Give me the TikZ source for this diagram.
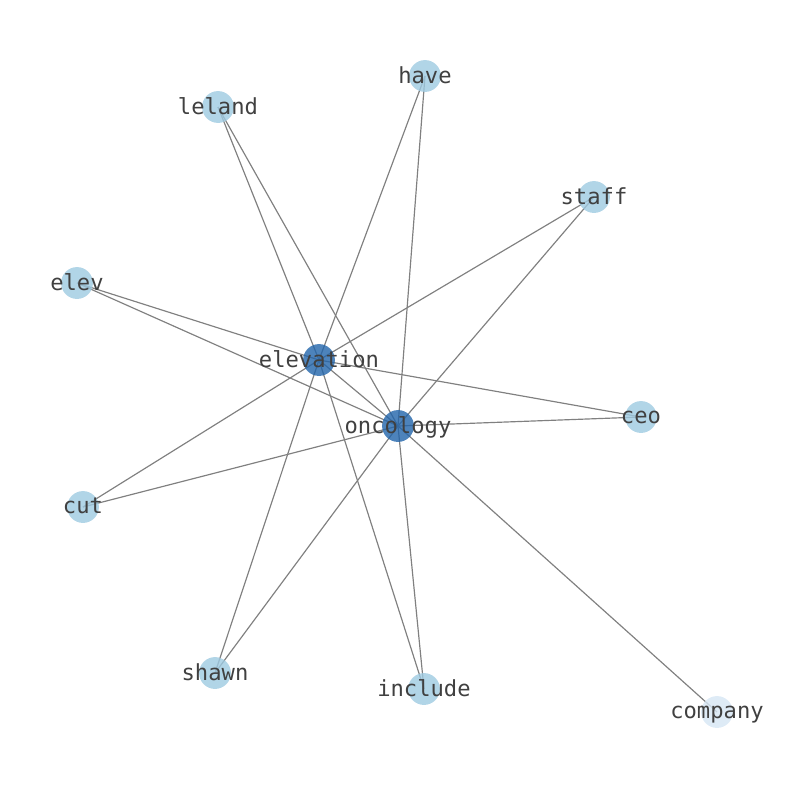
\documentclass[tikz,border=0pt]{standalone}
\usepackage{fontspec}
\setmonofont{DejaVu Sans Mono}
\usetikzlibrary{backgrounds}
\definecolor{hubblue}{RGB}{33,100,170}
\definecolor{leafblue}{RGB}{158,202,225}
\definecolor{paleblue}{RGB}{214,230,244}
\definecolor{labelgray}{RGB}{64,64,64}
\definecolor{edgegray}{RGB}{128,128,128}
\tikzset{
  hub/.style={circle,minimum size=23pt,inner sep=0pt,fill=hubblue,fill opacity=0.8},
  leaf/.style={circle,minimum size=23pt,inner sep=0pt,fill=leafblue,fill opacity=0.8},
  pale/.style={circle,minimum size=23pt,inner sep=0pt,fill=paleblue,fill opacity=0.8},
  lbl/.style={font=\ttfamily\fontsize{16}{16}\selectfont,text=labelgray,inner sep=0pt,yshift=-1.5pt},
  edge/.style={draw=edgegray,line width=0.85pt}
}
\begin{document}
\begin{tikzpicture}[x=0.01in,y=-0.01in]
		\useasboundingbox (0,0) rectangle (794,790);
		% nodes
		\node[hub] (elevation) at (319,360) {};
		\node[hub] (oncology) at (398,426) {};
		\node[leaf] (have) at (425,76) {};
		\node[leaf] (leland) at (218,107) {};
		\node[leaf] (staff) at (594,197) {};
		\node[leaf] (elev) at (77,283) {};
		\node[leaf] (ceo) at (641,417) {};
		\node[leaf] (cut) at (83,507) {};
		\node[leaf] (shawn) at (215,673) {};
		\node[leaf] (include) at (424,689) {};
		\node[pale] (company) at (717,712) {};
		% edges
		\begin{scope}[on background layer]
		\foreach \n in {have,leland,staff,elev,ceo,cut,shawn,include,oncology}
			\draw[edge] (elevation.center) -- (\n.center);
		\foreach \n in {have,leland,staff,elev,ceo,cut,shawn,include,company}
			\draw[edge] (oncology.center) -- (\n.center);
		\end{scope}
		% labels
		\foreach \n in {elevation,oncology,have,leland,staff,elev,ceo,cut,shawn,include,company}
			\node[lbl] at (\n.center) {\strut\n};
\end{tikzpicture}
\end{document}
